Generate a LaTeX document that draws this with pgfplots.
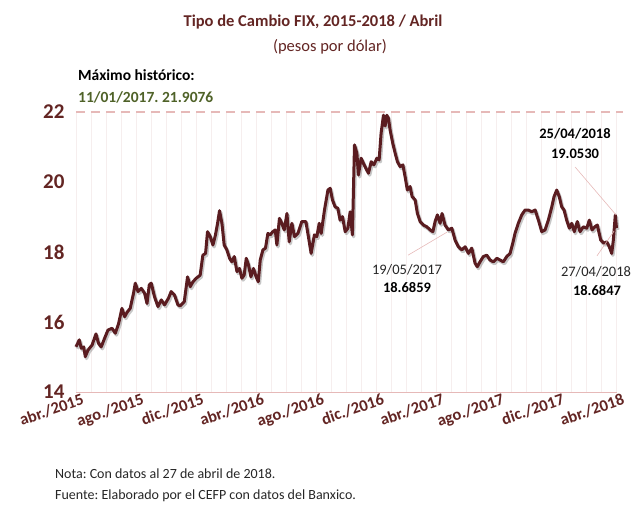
\documentclass[border=0pt]{standalone}
\usepackage{fontspec}
\setmainfont{Carlito}
\usepackage{pgfplots}
\pgfplotsset{compat=1.18}
\definecolor{vino}{HTML}{5A1C20}
\definecolor{vinotxt}{HTML}{632523}
\definecolor{rosa}{HTML}{E6B9B8}
\definecolor{olivo}{HTML}{4F6228}
\definecolor{rejilla}{HTML}{F6EEEE}
\newcommand{\fs}[1]{\fontsize{#1}{#1}\selectfont}
\frenchspacing

% x: posicion en meses desde abr./2015 (0) hasta abr./2018 (36)
\pgfplotstableread{
x y
0.00 15.29
0.22 15.49
0.35 15.25
0.51 15.29
0.62 15.01
0.80 15.20
1.07 15.34
1.33 15.66
1.50 15.39
1.68 15.29
1.90 15.53
2.13 15.77
2.40 15.82
2.62 15.68
2.84 15.96
3.06 16.39
3.24 16.15
3.42 16.29
3.61 16.39
3.83 16.82
3.95 17.11
4.13 16.87
4.35 16.96
4.57 16.82
4.73 16.53
4.88 17.06
5.01 17.11
5.23 16.72
5.46 16.44
5.68 16.63
5.90 16.49
6.16 16.68
6.34 16.87
6.56 16.77
6.79 16.49
6.94 16.46
7.21 16.58
7.43 17.29
7.61 17.01
7.79 17.15
8.01 17.25
8.27 17.34
8.45 17.91
8.63 17.96
8.76 18.58
8.94 18.44
9.12 18.20
9.29 18.49
9.43 18.82
9.56 19.18
9.72 18.82
9.87 18.20
10.05 18.06
10.23 17.82
10.38 17.72
10.54 17.87
10.72 17.44
10.89 17.53
11.05 17.25
11.20 17.34
11.34 17.82
11.49 17.63
11.65 17.29
11.82 17.53
12.00 17.29
12.14 17.15
12.27 17.77
12.45 18.06
12.62 18.11
12.78 18.53
12.93 18.49
13.11 18.58
13.27 18.63
13.38 18.20
13.55 18.96
13.71 18.82
13.87 18.63
14.05 19.10
14.20 18.29
14.38 18.82
14.55 18.44
14.78 18.53
15.04 18.87
15.31 18.87
15.48 18.44
15.66 17.96
15.88 18.49
16.04 18.44
16.20 18.82
16.33 18.53
16.55 19.20
16.78 19.77
16.93 19.82
17.08 19.49
17.26 19.29
17.44 19.25
17.59 18.91
17.75 19.01
17.93 18.58
18.11 18.68
18.26 19.15
18.41 18.49
18.55 21.06
18.71 20.82
18.81 20.20
18.99 20.68
19.15 20.53
19.31 20.39
19.48 20.25
19.66 20.58
19.84 20.49
20.04 20.68
20.19 20.63
20.32 21.39
20.48 21.91
20.59 21.60
20.70 21.9076
20.81 21.82
20.92 21.49
21.10 21.10
21.26 20.82
21.41 20.58
21.59 20.44
21.77 20.49
21.92 20.15
22.07 19.77
22.25 19.87
22.39 19.58
22.59 19.49
22.74 19.10
22.92 18.87
23.14 18.77
23.37 18.72
23.59 18.63
23.77 18.58
23.92 18.87
24.07 19.06
24.25 18.82
24.38 19.10
24.58 18.77
24.72 18.6859
24.80 18.63
25.03 18.68
25.25 18.34
25.47 18.15
25.70 18.06
25.92 18.15
26.14 17.96
26.36 18.11
26.58 17.68
26.73 17.58
26.91 17.72
27.13 17.87
27.36 17.91
27.58 17.77
27.80 17.72
28.03 17.82
28.25 17.77
28.46 17.72
28.69 17.87
28.91 17.96
29.09 18.25
29.24 18.53
29.46 18.82
29.69 19.06
29.91 19.20
30.13 19.20
30.36 19.15
30.58 19.20
30.80 18.91
31.02 18.58
31.24 18.63
31.46 18.91
31.69 19.29
31.84 19.58
32.02 19.77
32.19 19.58
32.35 19.29
32.51 19.20
32.68 18.91
32.86 18.68
33.02 18.82
33.19 18.58
33.39 18.87
33.57 18.58
33.79 18.72
34.02 18.68
34.19 18.91
34.37 18.63
34.56 18.72
34.72 18.77
34.95 18.34
35.17 18.25
35.35 18.29
35.52 18.15
35.68 17.96
35.79 18.34
35.92 19.0530
36.00 18.6847
}\fix

\begin{document}
\begin{tikzpicture}
\path[use as bounding box] (-76pt,-120pt) rectangle (557pt,392pt);
\begin{axis}[
  at={(0pt,0pt)}, anchor=south west,
  scale only axis, width=540.5pt, height=280pt,
  xmin=0, xmax=36, ymin=14, ymax=22,
  axis x line*=bottom, axis y line*=left,
  x axis line style={rosa, line width=1pt, -},
  y axis line style={draw=none},
  tick style={draw=none},
  xtick={0,4,...,36},
  xticklabels={abr./2015,ago./2015,dic./2015,abr./2016,ago./2016,dic./2016,abr./2017,ago./2017,dic./2017,abr./2018},
  minor xtick={0,1,...,36},
  xmajorgrids=true, xminorgrids=true,
  major grid style={rejilla, line width=0.7pt},
  minor grid style={rejilla, line width=0.7pt},
  ytick={14,16,...,22},
  /pgf/number format/assume math mode=true,
  yticklabel style={font=\fs{21}\bfseries, text=vinotxt, xshift=-8pt},
  xticklabel style={font=\fs{16.5}\bfseries, text=vinotxt, rotate=19, anchor=north east, inner sep=0.5pt, xshift=5pt, yshift=-2pt},
  clip=false,
]
\addplot[rosa, line width=2.5pt, dash pattern=on 9pt off 6pt] coordinates {(0,22) (36.4,22)};
\addplot[black, opacity=0.22, line width=3.4pt, line join=round, transform canvas={xshift=1.2pt,yshift=-1.8pt}] table {\fix};
\addplot[vino, line width=3pt, line join=round] table {\fix};
\draw[rosa, line width=0.6pt] (axis cs:22.12,17.91) -- (axis cs:24.72,18.57);
\draw[rosa, line width=0.6pt] (axis cs:33.24,20.43) -- (axis cs:35.97,19.06);
\draw[rosa, line width=0.6pt] (axis cs:34.70,17.89) -- (axis cs:35.84,18.60);
\end{axis}
\node[text=vinotxt, font=\fs{16.5}\bfseries] at (237pt,370pt) {Tipo de Cambio FIX, 2015-2018 / Abril};
\node[text=vinotxt, font=\fs{16.5}] at (254pt,345pt) {(pesos por dólar)};
\node[anchor=west, font=\fs{15.5}\bfseries, inner sep=0pt] at (2pt,317pt) {Máximo histórico:};
\node[anchor=west, text=olivo, font=\fs{15.5}\bfseries, inner sep=0pt] at (2pt,295pt) {11/01/2017. 21.9076};
\node[font=\fs{14.5}\bfseries] at (499pt,258pt) {25/04/2018};
\node[font=\fs{14.5}\bfseries] at (499pt,238pt) {19.0530};
\node[text=black!85, font=\fs{14.5}] at (331pt,122pt) {19/05/2017};
\node[font=\fs{14.5}\bfseries] at (331pt,104pt) {18.6859};
\node[text=black!85, font=\fs{14.5}] at (520pt,120pt) {27/04/2018};
\node[font=\fs{14.5}\bfseries] at (521pt,101pt) {18.6847};
\node[anchor=west, text=black!85, font=\fs{14}, inner sep=0pt] at (-21pt,-82pt) {Nota: Con datos al 27 de abril de 2018.};
\node[anchor=west, text=black!85, font=\fs{14}, inner sep=0pt] at (-21pt,-104pt) {Fuente: Elaborado por el CEFP con datos del Banxico.};
\end{tikzpicture}
\end{document}
